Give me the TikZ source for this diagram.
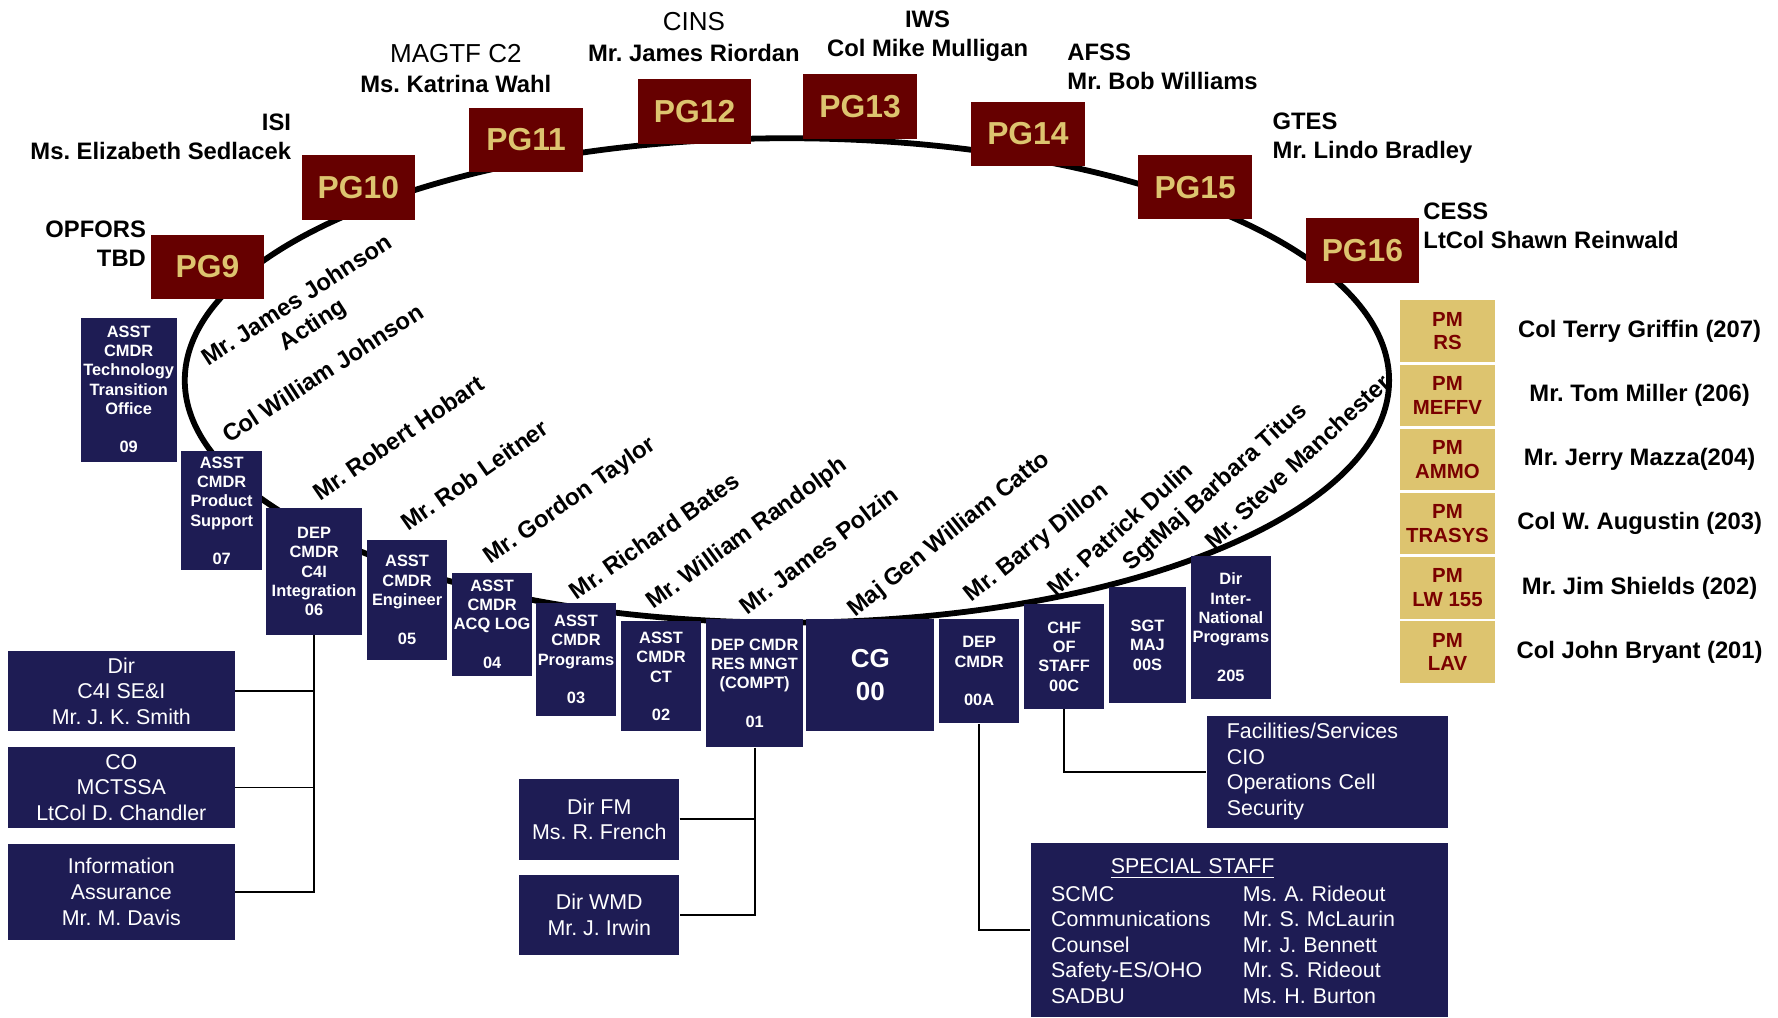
\documentclass[tikz,border=0pt]{standalone}
\usepackage{fontspec}
\setmainfont{Liberation Sans}
\definecolor{navyc}{RGB}{30,28,84}
\definecolor{pgred}{RGB}{102,0,0}
\definecolor{pggold}{RGB}{221,196,111}
\definecolor{pmred}{RGB}{122,0,0}
\newcommand\myfs[2]{\fontsize{#1}{#2}\selectfont}
\frenchspacing
\begin{document}
\begin{tikzpicture}[x=0.567pt, y=-0.567pt,
 bx/.style n args={4}{at={({(#1+#3)/2},{(#2+#4)/2})}, minimum width={(#3-#1)*0.567pt}, minimum height={(#4-#2)*0.567pt}},
 navybox/.style={fill=navyc, inner sep=0pt, text=white, align=center, font=\bfseries\myfs{8.2}{9.64}},
 pgbox/.style={fill=pgred, inner sep=0pt, minimum width=56.7pt, minimum height=32.3pt, text=pggold, font=\bfseries\myfs{15.9}{18}},
 pmbox/.style={fill=pggold, inner sep=0pt, text=pmred, align=center, font=\bfseries\myfs{10.2}{11.9}},
 head/.style={inner sep=0pt, font=\bfseries\myfs{11.9}{14.5}},
 pmname/.style={inner sep=0pt, font=\bfseries\myfs{11.9}{14.2}},
 rname/.style={inner sep=0pt, align=center, font=\bfseries\myfs{11.9}{14.6}},
 wbox/.style={fill=navyc, inner sep=0pt, text=white, align=center, font=\myfs{10.7}{12.76}},
 link/.style={line width=0.9pt, black},
]
\useasboundingbox (0,0) rectangle (1568,897);

% ring
\draw[line width=2.9pt] (694,335.5) ellipse [x radius=301.1pt, y radius=121.1pt];

% PG boxes
\node[pgbox] (pg9)  at (183,235.5)  {PG9};
\node[pgbox] (pg10) at (316,165.5)  {PG10};
\node[pgbox] (pg11) at (464,123.5)  {PG11};
\node[pgbox] (pg12) at (612.5,98.5) {PG12};
\node[pgbox] (pg13) at (758.5,94)   {PG13};
\node[pgbox] (pg14) at (906.5,118)  {PG14};
\node[pgbox] (pg15) at (1054,165)   {PG15};
\node[pgbox] (pg16) at (1201.5,221) {PG16};

% PG headings
\node[head, anchor=east, align=right] (hopfor) at (129,214.5) {OPFORS\\TBD};
\node[head, anchor=east, align=right] (hisi) at (257,121) {ISI\\Ms. Elizabeth Sedlacek};
\node[head, align=center, font=\bfseries\myfs{11.9}{15.3}] (hmagtf) at (402,60.5) {{\mdseries\myfs{13}{15.3}MAGTF C2}\\Ms. Katrina Wahl};
\node[head, align=center, font=\bfseries\myfs{11.9}{15.3}] (hcins) at (612,32.5) {{\mdseries\myfs{13}{15.3}CINS}\\Mr. James Riordan};
\node[head, align=center] (hiws) at (818,31.5) {IWS\\Col Mike Mulligan};
\node[head, anchor=west, align=left] (hafss) at (941,58.5) {AFSS\\Mr. Bob Williams};
\node[head, anchor=west, align=left] (hgtes) at (1122,121.5) {GTES\\Mr. Lindo Bradley};
\node[head, anchor=west, align=left] (hcess) at (1255,199) {CESS\\LtCol Shawn Reinwald};

% rotated names
\node[rname, rotate=33]   (r1)  at (269.5,276.5) {Mr. James Johnson\\Acting};
\node[rname, rotate=33]   (r2)  at (284.5,329)   {Col William Johnson};
\node[rname, rotate=34.5] (r3)  at (351,386)     {Mr. Robert Hobart};
\node[rname, rotate=35]   (r4)  at (418.5,419)   {Mr. Rob Leitner};
\node[rname, rotate=35]   (r5)  at (503,442)     {Mr. Gordon Taylor};
\node[rname, rotate=35]   (r6)  at (577,472.5)   {Mr. Richard Bates};
\node[rname, rotate=36]   (r7)  at (659,471)     {Mr. William Randolph};
\node[rname, rotate=37.5] (r8)  at (722,485)     {Mr. James Polzin};
\node[rname, rotate=38.5] (r9)  at (837,471.7)   {Maj Gen William Catto};
\node[rname, rotate=38.5] (r10) at (914.5,479)   {Mr. Barry Dillon};
\node[rname, rotate=42]   (r11) at (987.5,466)   {Mr. Patrick Dulin};
\node[rname, rotate=42]   (r12) at (1072,430)    {SgtMaj Barbara Titus};
\node[rname, rotate=43]   (r13) at (1144,407)    {Mr. Steve Manchester};

% navy boxes on the ring
\node[navybox, bx={71}{280}{156}{407}]   (b09) {ASST\\CMDR\\Technology\\Transition\\Office\\[9.64pt]09};
\node[navybox, bx={160}{398}{231}{503}]  (b07) {ASST\\CMDR\\Product\\Support\\[9.64pt]07};
\node[navybox, bx={235}{448}{319}{560}]  (b06) {DEP\\CMDR\\C4I\\Integration\\06};
\node[navybox, bx={324}{476}{394}{582}]  (b05) {ASST\\CMDR\\Engineer\\[9.64pt]05};
\node[navybox, bx={399}{505}{469}{596}]  (b04) {ASST\\CMDR\\ACQ LOG\\[9.64pt]04};
\node[navybox, bx={473}{532}{543}{631}]  (b03) {ASST\\CMDR\\Programs\\[9.64pt]03};
\node[navybox, bx={548}{548}{618}{645}]  (b02) {ASST\\CMDR\\CT\\[9.64pt]02};
\node[navybox, bx={623}{546}{708}{659}]  (b01) {DEP CMDR\\RES MNGT\\(COMPT)\\[9.64pt]01};
\node[navybox, bx={711}{546}{824}{645}, font=\bfseries\myfs{13}{16.4}] (cg) {CG\\00};
\node[navybox, bx={828}{546}{899}{638}]  (b00a) {DEP\\CMDR\\[9.64pt]00A};
\node[navybox, bx={903}{533}{974}{625}]  (b00c) {CHF\\OF\\STAFF\\00C};
\node[navybox, bx={978}{518}{1046}{620}] (b00s) {SGT\\MAJ\\00S};
\node[navybox, bx={1050}{490}{1121}{616}] (b205) {Dir\\Inter-\\National\\Programs\\[9.64pt]205};

% PM boxes
\node[pmbox, bx={1235}{265}{1318}{319}]     (pm207) {PM\\RS};
\node[pmbox, bx={1235}{322}{1318}{376}]     (pm206) {PM\\MEFFV};
\node[pmbox, bx={1235}{378.5}{1318}{432.5}] (pm204) {PM\\AMMO};
\node[pmbox, bx={1235}{435}{1318}{489}]     (pm203) {PM\\TRASYS};
\node[pmbox, bx={1235}{491.5}{1318}{545.5}] (pm202) {PM\\LW 155};
\node[pmbox, bx={1235}{548}{1318}{602}]     (pm201) {PM\\LAV};
\node[pmname] (n207) at (1446,292)   {Col Terry Griffin (207)};
\node[pmname] (n206) at (1446,349)   {Mr. Tom Miller (206)};
\node[pmname] (n204) at (1446,405.5) {Mr. Jerry Mazza(204)};
\node[pmname] (n203) at (1446,462)   {Col W. Augustin (203)};
\node[pmname] (n202) at (1446,518.5) {Mr. Jim Shields (202)};
\node[pmname] (n201) at (1446,575)   {Col John Bryant (201)};

% lower boxes
\node[wbox, bx={7}{574}{207}{645}]   (dirc4i) {Dir\\C4I SE\&I\\Mr. J. K. Smith};
\node[wbox, bx={7}{659}{207}{730}]   (mctssa) {CO\\MCTSSA\\LtCol D. Chandler};
\node[wbox, bx={7}{744}{207}{829}]   (infoas) {Information\\Assurance\\Mr. M. Davis};
\node[wbox, bx={458}{687}{599}{758}] (dirfm)  {Dir FM\\Ms. R. French};
\node[wbox, bx={458}{772}{599}{842}] (dirwmd) {Dir WMD\\Mr. J. Irwin};
\node[wbox, bx={1064}{631}{1277}{730}, align=left, text width=100.4pt] (facil) {Facilities/Services\\CIO\\Operations Cell\\Security};
\node[wbox, bx={909}{743}{1277}{897}, align=left, text width=188.2pt] (special) {%
\raisebox{-1.8pt}[\height][\depth]{\myfs{10.7}{12.76}\begin{tabular}{@{}p{95.8pt}@{}l@{}}
\multicolumn{2}{@{\hspace{29.8pt}}l@{}}{\underline{SPECIAL STAFF}}\\[0.8pt]
SCMC & Ms. A. Rideout\\
Communications & Mr. S. McLaurin\\
Counsel & Mr. J. Bennett\\
Safety-ES/OHO & Mr. S. Rideout\\
SADBU & Ms. H. Burton
\end{tabular}}};

% connectors
\draw[link] (b06.south) -- (b06.south |- infoas.east) -- (infoas.east);
\draw[link] (dirc4i.east) -- (dirc4i.east -| b06.south);
\draw[link] (mctssa.east) -- (mctssa.east -| b06.south);
\draw[link] (b01.south) -- (b01.south |- dirwmd.east) -- (dirwmd.east);
\draw[link] (dirfm.east) -- (dirfm.east -| b01.south);
\draw[link] (b00c.south) -- (b00c.south |- facil.west) -- (facil.west);
\draw[link] (b00a.south) -- (b00a.south |- special.west) -- (special.west);
\end{tikzpicture}
\end{document}
